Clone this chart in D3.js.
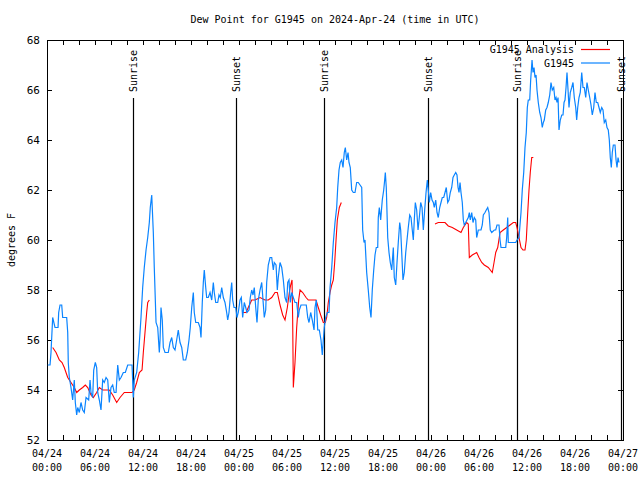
<!DOCTYPE html>
<html>
<head>
<meta charset="utf-8">
<script src="https://cdn.jsdelivr.net/npm/d3@7"></script>
<style>
  html, body { margin: 0; padding: 0; background: #fff; }
  svg text { font-family: "DejaVu Sans Mono", "Liberation Mono", monospace; font-size: 10px; fill: #000; }
</style>
</head>
<body>
<svg id="chart" width="640" height="480"></svg>
<script>
// ---------- DATA (hours since 2024-04-24 00:00 UTC, dew point °F) ----------
const title = "Dew Point for G1945 on 2024-Apr-24 (time in UTC)";
const yLabel = "degrees F";
const seriesNames = ["G1945 Analysis", "G1945"];
const yTicks = [52, 54, 56, 58, 60, 62, 64, 66, 68];
const sunriseHours = [10.79, 34.66, 58.71];
const sunsetHours = [23.66, 47.66, 71.75];

const blueHours = [0.09,0.38,0.5,0.71,1.0,1.38,1.46,1.63,1.84,1.96,2.46,2.59,2.66,2.79,3.0,3.21,3.41,3.54,3.71,3.84,4.04,4.25,4.46,4.66,4.88,5.21,5.38,5.5,5.71,5.84,6.04,6.21,6.34,6.54,6.75,6.96,7.16,7.38,7.59,7.79,8.0,8.21,8.41,8.63,8.84,9.04,9.25,9.54,9.79,10.09,10.63,10.79,10.91,11.21,11.46,11.75,11.96,12.16,12.38,12.59,12.79,12.91,13.09,13.29,13.41,13.63,13.84,14.04,14.13,14.25,14.41,14.54,14.75,15.16,15.38,15.59,15.79,16.0,16.21,16.41,16.63,16.84,17.04,17.34,17.54,17.75,17.91,18.09,18.29,18.41,18.59,18.91,19.13,19.25,19.41,19.54,19.66,19.84,19.96,20.16,20.38,20.59,20.79,20.91,21.09,21.34,21.5,21.66,21.84,22.04,22.25,22.46,22.59,22.75,22.96,23.09,23.21,23.38,23.59,23.75,23.91,24.13,24.29,24.46,24.66,24.84,25.0,25.25,25.41,25.59,25.75,25.91,26.09,26.25,26.41,26.63,26.84,27.0,27.16,27.34,27.46,27.66,27.88,28.09,28.29,28.41,28.63,28.79,28.91,29.13,29.34,29.54,29.75,29.96,30.09,30.25,30.41,30.59,30.79,31.0,31.21,31.41,31.54,31.75,32.41,32.59,32.75,32.96,33.16,33.38,33.5,33.66,33.84,34.04,34.25,34.41,34.54,34.66,34.84,35.04,35.25,35.38,35.59,35.79,36.0,36.21,36.34,36.5,36.66,36.84,37.0,37.16,37.29,37.46,37.63,37.75,37.91,38.09,38.29,38.5,38.71,38.91,39.13,39.34,39.46,39.63,39.75,39.96,40.16,40.34,40.5,40.66,40.84,41.0,41.16,41.34,41.41,41.54,41.71,41.91,42.09,42.21,42.29,42.41,42.59,42.75,42.91,43.09,43.29,43.41,43.59,43.75,43.91,44.09,44.21,44.34,44.5,44.66,44.84,45.0,45.16,45.34,45.5,45.66,45.79,45.91,46.04,46.21,46.38,46.54,46.71,46.88,47.04,47.21,47.38,47.54,47.66,47.79,47.96,48.13,48.29,48.41,48.59,48.75,48.91,49.09,49.25,49.41,49.59,49.75,49.91,50.09,50.25,50.41,50.59,50.75,50.91,51.09,51.25,51.38,51.5,51.63,51.75,51.91,52.04,52.16,52.34,52.5,52.66,52.79,52.91,53.09,53.25,53.41,53.59,53.71,53.91,54.25,54.41,54.54,54.75,54.91,55.09,55.25,55.41,55.59,55.91,56.09,56.25,56.5,56.63,56.75,57.34,57.46,57.59,57.66,58.59,58.75,59.0,59.25,59.41,59.59,59.75,59.91,60.04,60.16,60.34,60.46,60.63,60.75,60.88,61.0,61.13,61.25,61.41,61.59,61.75,61.91,62.04,62.16,62.34,62.5,62.66,62.84,63.0,63.16,63.34,63.5,63.63,63.75,63.88,64.0,64.16,64.34,64.5,64.63,64.75,64.88,65.0,65.13,65.25,65.41,65.59,65.75,65.91,66.09,66.21,66.34,66.5,66.66,66.84,67.0,67.16,67.34,67.5,67.66,67.84,68.0,68.16,68.34,68.5,68.66,68.84,69.0,69.16,69.34,69.5,69.66,69.84,70.0,70.16,70.29,70.41,70.54,70.66,70.79,71.0,71.13,71.25,71.38,71.5];
const blueValues = [55.0,55.0,55.5,56.9,56.5,56.5,57.1,57.4,57.4,56.9,56.9,56.3,55.1,54.5,54.1,53.6,54.4,53.5,53.0,53.3,53.1,53.5,53.2,53.1,53.7,53.6,54.4,53.9,53.7,54.8,55.1,54.9,53.9,53.6,53.2,54.4,54.3,54.5,54.4,53.5,54.1,54.2,53.9,53.9,55.0,54.4,54.5,54.7,54.7,55.0,55.0,53.7,54.4,54.7,55.5,56.9,58.1,58.9,59.6,60.1,60.7,61.3,61.8,60.3,58.9,56.7,56.5,55.5,56.0,57.3,56.8,55.7,55.5,55.5,55.9,56.1,55.7,55.6,56.0,56.4,55.9,55.7,55.2,55.2,55.5,56.0,56.5,57.3,57.9,57.1,56.7,56.7,56.5,56.1,57.5,58.3,58.8,58.1,57.7,57.7,57.9,57.6,58.3,57.9,57.5,57.5,57.8,57.7,58.1,57.7,57.5,57.1,56.8,57.1,57.9,58.3,57.6,57.3,57.3,56.9,57.1,57.6,57.7,56.9,57.5,57.3,57.1,57.2,57.7,58.0,57.8,58.1,57.3,56.7,57.6,58.0,58.3,57.6,56.9,57.2,58.3,59.0,59.3,59.3,58.8,59.1,59.0,58.0,58.5,59.1,58.9,58.4,57.7,57.5,58.3,58.4,57.5,57.9,57.7,57.5,57.5,56.9,57.2,57.4,57.4,56.9,56.7,57.1,56.8,56.4,57.3,57.6,56.4,56.4,56.0,55.4,56.0,56.5,56.9,57.1,57.1,58.1,58.9,59.9,60.7,61.3,62.1,62.8,63.1,63.2,62.9,63.5,63.7,63.2,63.5,63.1,62.9,62.0,61.9,61.9,62.3,62.3,62.2,62.1,60.4,59.9,60.0,58.7,58.0,57.3,56.9,58.0,58.8,59.4,59.7,59.7,60.9,61.3,60.8,61.6,62.0,62.4,62.7,62.1,60.1,59.5,59.1,58.8,59.7,58.5,58.2,59.1,59.9,60.7,60.4,59.5,58.4,58.7,59.5,60.0,60.5,61.0,60.9,60.4,60.0,60.8,61.5,61.2,60.4,60.9,61.5,61.3,60.4,61.2,61.9,62.4,62.0,61.5,61.9,61.6,61.5,61.3,61.6,61.1,60.9,61.3,61.5,61.7,61.7,61.9,62.1,61.5,61.6,61.9,62.1,62.5,62.6,62.7,62.6,62.1,61.9,62.3,61.9,61.5,60.8,60.6,60.7,60.8,60.9,61.1,60.8,61.1,60.7,60.9,60.8,60.1,60.4,60.4,60.6,61.0,61.1,61.2,61.3,61.1,60.4,60.3,60.4,60.4,60.6,60.6,60.0,59.7,59.7,60.1,60.9,59.9,59.9,60.0,60.1,61.1,62.0,62.7,63.7,64.3,65.3,65.6,65.6,66.4,67.2,66.7,66.9,66.5,66.6,66.0,65.5,65.1,64.9,64.5,64.7,64.8,65.2,65.3,65.5,65.8,66.3,66.0,66.1,65.6,65.7,65.5,65.7,64.4,64.8,65.0,65.0,65.5,65.6,66.1,66.7,66.0,65.3,65.9,66.1,66.3,65.7,65.3,64.8,65.3,65.7,65.9,66.7,66.1,66.1,65.7,66.3,66.0,65.7,65.4,65.0,65.3,65.9,65.5,65.5,65.3,65.1,65.3,65.2,64.7,64.8,64.5,64.4,64.0,63.3,62.9,63.5,63.8,63.8,63.2,62.9,63.3,63.1];

// Analysis series; null marks a gap in the data
const redHours = [0.71,1.13,1.54,1.88,2.16,2.59,3.0,3.41,3.71,4.04,4.46,4.79,5.09,5.5,5.79,6.21,6.54,6.96,7.79,8.21,8.71,9.13,9.66,10.09,10.63,10.91,11.21,11.54,11.88,12.04,12.25,12.46,12.59,12.79,
  18.0,
  24.46,24.88,25.16,25.59,26.0,26.63,27.25,27.66,28.09,28.5,28.79,29.13,29.46,29.75,30.04,30.29,30.46,30.63,30.71,30.79,31.0,31.21,31.46,31.63,31.96,32.38,32.66,33.09,33.63,33.91,34.21,34.54,34.79,34.96,35.16,35.38,35.59,35.79,35.96,36.13,36.29,36.54,36.79,
  42.0,
  48.5,48.91,49.34,49.75,50.16,50.66,51.21,51.75,52.04,52.46,52.66,52.79,53.16,53.71,54.0,54.34,54.66,55.16,55.66,55.88,56.09,56.34,56.63,57.04,57.46,57.88,58.29,58.59,58.75,59.0,59.25,59.5,59.75,59.91,60.09,60.25,60.41,60.59,60.79];
const redValues = [55.7,55.5,55.2,55.1,54.9,54.5,54.3,54.1,53.9,54.0,54.1,54.2,54.1,53.8,53.7,53.9,54.1,54.0,54.0,53.8,53.5,53.7,53.9,53.9,53.9,54.0,54.3,54.7,54.8,55.5,56.3,57.1,57.5,57.6,
  null,
  57.1,57.1,57.3,57.6,57.6,57.7,57.6,57.6,57.7,57.9,57.9,57.4,57.0,56.8,57.3,57.9,58.2,58.4,56.8,54.1,55.1,56.5,57.6,58.0,57.9,57.7,57.6,57.6,57.6,57.3,57.0,56.7,56.7,56.9,57.5,57.9,58.2,58.4,59.1,60.0,60.8,61.3,61.5,
  null,
  60.64,60.7,60.7,60.7,60.56,60.5,60.4,60.3,60.5,60.7,60.64,59.3,59.4,59.5,59.3,59.1,59.0,58.9,58.7,59.1,59.5,59.7,60.3,60.4,60.5,60.6,60.7,60.7,60.5,60.1,59.7,59.6,59.6,60.0,61.1,62.0,62.7,63.3,63.3];

// ---------- CHART ----------
const W = 640, H = 480;
const M = { left: 47, right: 623, top: 40, bottom: 440 };
const t0 = Date.UTC(2024, 3, 24, 0, 0);
const hourToDate = h => new Date(t0 + h * 3600e3);

const x = d3.scaleUtc().domain([hourToDate(0), hourToDate(72)]).range([M.left, M.right]);
const y = d3.scaleLinear().domain([52, 68]).range([M.bottom, M.top]);

const svg = d3.select("#chart");
svg.append("rect").attr("width", W).attr("height", H).attr("fill", "#fff");

const blue = blueHours.map((h, i) => ({ t: hourToDate(h), v: blueValues[i] }));
const red = redHours.map((h, i) => ({ t: hourToDate(h), v: redValues[i] }));

// axes (ticks inward, mirrored)
const xTickVals = d3.utcHour.every(2).range(hourToDate(0), hourToDate(72.01));
const gx = svg.append("g").attr("transform", `translate(0,${M.bottom})`)
  .call(d3.axisBottom(x).tickValues(xTickVals).tickSize(-5).tickFormat(""));
const gxt = svg.append("g").attr("transform", `translate(0,${M.top})`)
  .call(d3.axisTop(x).tickValues(xTickVals).tickSize(-5).tickFormat(""));
const gy = svg.append("g").attr("transform", `translate(${M.left},0)`)
  .call(d3.axisLeft(y).tickValues(yTicks).tickSize(-5).tickFormat(""));
const gyr = svg.append("g").attr("transform", `translate(${M.right},0)`)
  .call(d3.axisRight(y).tickValues(yTicks).tickSize(-5).tickFormat(""));
[gx, gxt, gy, gyr].forEach(g => {
  g.select(".domain").remove();
  g.selectAll("line").attr("stroke", "#000").attr("shape-rendering", "crispEdges");
});

// border
svg.append("rect").attr("x", M.left + 0.5).attr("y", M.top + 0.5)
  .attr("width", M.right - M.left).attr("height", M.bottom - M.top)
  .attr("fill", "none").attr("stroke", "#000").attr("shape-rendering", "crispEdges");

// y tick labels
svg.append("g").selectAll("text").data(yTicks).join("text")
  .attr("x", M.left - 7).attr("y", d => y(d) + 4)
  .attr("text-anchor", "end").style("font-size", "11px").text(d => d);

// x tick labels every 6 hours
const xLabelVals = d3.utcHour.every(6).range(hourToDate(0), hourToDate(72.01));
const fmtDay = d3.utcFormat("%m/%d"), fmtTime = d3.utcFormat("%H:%M");
const xl = svg.append("g").selectAll("g").data(xLabelVals).join("g");
xl.append("text").attr("x", d => x(d)).attr("y", 457).attr("text-anchor", "middle").text(d => fmtDay(d));
xl.append("text").attr("x", d => x(d)).attr("y", 471).attr("text-anchor", "middle").text(d => fmtTime(d));

// title & y label
svg.append("text").attr("x", (M.left + M.right) / 2).attr("y", 23).attr("text-anchor", "middle").text(title);
svg.append("text").attr("transform", `translate(15,${(M.top + M.bottom) / 2}) rotate(-90)`)
  .attr("text-anchor", "middle").text(yLabel);

// sunrise / sunset markers
const events = sunriseHours.map(h => ({ h, name: "Sunrise" }))
  .concat(sunsetHours.map(h => ({ h, name: "Sunset" })));
const ev = svg.append("g").selectAll("g").data(events).join("g");
ev.append("line")
  .attr("x1", d => Math.round(x(hourToDate(d.h))) + 0.5).attr("x2", d => Math.round(x(hourToDate(d.h))) + 0.5)
  .attr("y1", 98).attr("y2", M.bottom).attr("stroke", "#000").attr("stroke-width", 1.2);
ev.append("text")
  .attr("transform", d => `translate(${Math.round(x(hourToDate(d.h))) + 4},92) rotate(-90)`)
  .attr("text-anchor", "start").text(d => d.name);

// lines
const line = d3.line().defined(d => d.v !== null).x(d => x(d.t)).y(d => y(d.v));
svg.append("path").datum(red).attr("d", line).attr("fill", "none")
  .attr("stroke", "#ff0000").attr("stroke-width", 1.1);
svg.append("path").datum(blue).attr("d", line).attr("fill", "none")
  .attr("stroke", "#0a84ff").attr("stroke-width", 1.2);

// legend
const legColors = ["#ff0000", "#0a84ff"];
const lg = svg.append("g").selectAll("g").data(seriesNames).join("g")
  .attr("transform", (d, i) => `translate(0,${49 + i * 13.5})`);
lg.append("rect").attr("x", 486).attr("y", -6).attr("width", 90).attr("height", 11)
  .attr("fill", "#fff").attr("opacity", 0);
lg.append("text").attr("x", 574).attr("y", 4).attr("text-anchor", "end").text(d => d);
lg.append("line").attr("x1", 581).attr("x2", 610).attr("y1", 0.5).attr("y2", 0.5)
  .attr("stroke", (d, i) => legColors[i]).attr("stroke-width", 1.2);
</script>
</body>
</html>
